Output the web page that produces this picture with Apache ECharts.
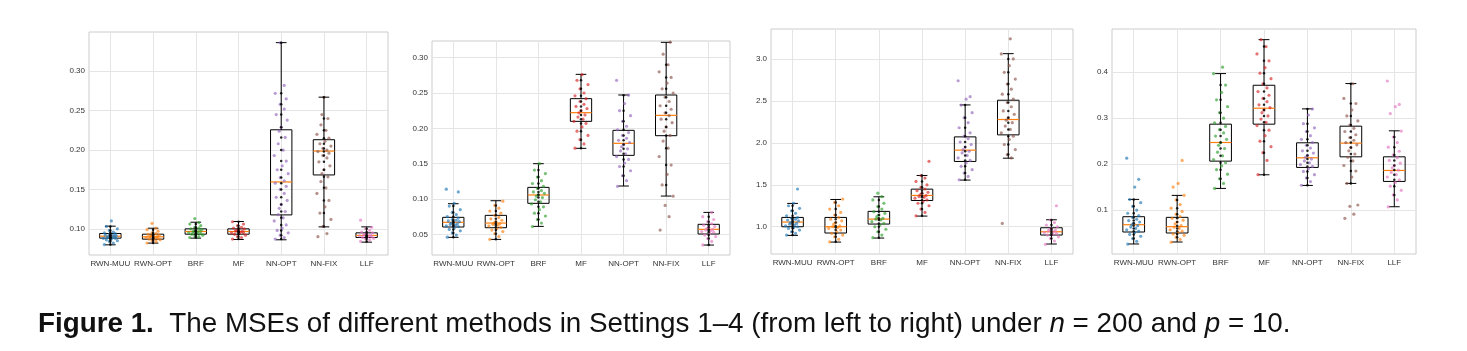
<!DOCTYPE html>
<html>
<head>
<meta charset="utf-8">
<script src="https://cdn.jsdelivr.net/npm/echarts@6/dist/echarts.min.js"></script>
<style>
  html, body { margin: 0; padding: 0; background: #fff; }
  #main { width: 1467px; height: 351px; }
</style>
</head>
<body>
<div id="main"></div>
<script>
const methods = ['RWN-MUU', 'RWN-OPT', 'BRF', 'MF', 'NN-OPT', 'NN-FIX', 'LLF']
const colors = ['#1f77b4', '#ff7f0e', '#2ca02c', '#d62728', '#9467bd', '#8c564b', '#e377c2']

// box stats per method: [min whisker, Q1, median, Q3, max whisker]
const s1Box = [
  [0.0797, 0.0882, 0.0907, 0.0941, 0.1034],
  [0.0819, 0.0869, 0.0899, 0.0932, 0.1008],
  [0.0882, 0.0932, 0.0966, 0.1000, 0.1084],
  [0.0865, 0.0932, 0.0966, 0.1000, 0.1093],
  [0.0861, 0.1177, 0.1595, 0.2257, 0.3363],
  [0.1025, 0.1684, 0.1987, 0.2131, 0.2671],
  [0.0831, 0.0890, 0.0916, 0.0949, 0.1025]
]
const s2Box = [
  [0.0458, 0.0604, 0.0670, 0.0741, 0.0934],
  [0.0429, 0.0594, 0.0660, 0.0769, 0.0976],
  [0.0613, 0.0939, 0.1057, 0.1165, 0.1500],
  [0.1717, 0.2099, 0.2222, 0.2420, 0.2764],
  [0.1184, 0.1618, 0.1788, 0.1972, 0.2472],
  [0.1042, 0.1896, 0.2184, 0.2472, 0.3217],
  [0.0349, 0.0505, 0.0571, 0.0642, 0.0811]
]
const s3Box = [
  [0.897, 1.000, 1.056, 1.111, 1.278],
  [0.817, 0.925, 1.000, 1.111, 1.325],
  [0.865, 1.032, 1.091, 1.183, 1.357],
  [1.127, 1.313, 1.373, 1.448, 1.611],
  [1.556, 1.778, 1.913, 2.071, 2.452],
  [1.817, 2.095, 2.278, 2.508, 3.063],
  [0.794, 0.901, 0.940, 0.988, 1.083]
]
const s4Box = [
  [0.0261, 0.0522, 0.0681, 0.0855, 0.1232],
  [0.0304, 0.0500, 0.0638, 0.0841, 0.1319],
  [0.1471, 0.2065, 0.2471, 0.2870, 0.3971],
  [0.1768, 0.2870, 0.3217, 0.3717, 0.4710],
  [0.1536, 0.1928, 0.2138, 0.2464, 0.3203],
  [0.1580, 0.2159, 0.2457, 0.2826, 0.3754],
  [0.1072, 0.1623, 0.1862, 0.2159, 0.2725]
]

// individual MSE values
const s1Pts = [
  [0.080, 0.082, 0.084, 0.085, 0.086, 0.087, 0.088, 0.088, 0.089, 0.089, 0.090, 0.090, 0.091, 0.091, 0.092, 0.092, 0.093, 0.094, 0.095, 0.096, 0.098, 0.100, 0.103, 0.110],
  [0.082, 0.084, 0.085, 0.086, 0.087, 0.087, 0.088, 0.089, 0.089, 0.090, 0.090, 0.091, 0.092, 0.092, 0.093, 0.094, 0.095, 0.097, 0.099, 0.101, 0.107],
  [0.089, 0.090, 0.091, 0.092, 0.093, 0.094, 0.094, 0.095, 0.096, 0.096, 0.097, 0.097, 0.098, 0.099, 0.100, 0.101, 0.102, 0.104, 0.106, 0.108, 0.113],
  [0.087, 0.089, 0.090, 0.092, 0.093, 0.094, 0.095, 0.095, 0.096, 0.097, 0.097, 0.098, 0.099, 0.100, 0.101, 0.102, 0.104, 0.106, 0.109],
  [0.087, 0.089, 0.092, 0.095, 0.098, 0.101, 0.105, 0.110, 0.114, 0.118, 0.122, 0.126, 0.131, 0.136, 0.140, 0.145, 0.150, 0.154, 0.158, 0.161, 0.165, 0.170, 0.175, 0.180, 0.186, 0.193, 0.200, 0.208, 0.216, 0.224, 0.229, 0.238, 0.245, 0.252, 0.258, 0.265, 0.272, 0.282, 0.336],
  [0.090, 0.094, 0.103, 0.112, 0.120, 0.128, 0.136, 0.145, 0.152, 0.160, 0.166, 0.170, 0.175, 0.180, 0.185, 0.190, 0.193, 0.196, 0.198, 0.200, 0.202, 0.205, 0.208, 0.211, 0.215, 0.220, 0.225, 0.232, 0.240, 0.245, 0.267],
  [0.084, 0.086, 0.087, 0.088, 0.089, 0.090, 0.090, 0.091, 0.091, 0.092, 0.092, 0.093, 0.094, 0.095, 0.096, 0.098, 0.100, 0.102, 0.111]
]
const s2Pts = [
  [0.046, 0.049, 0.052, 0.055, 0.057, 0.059, 0.061, 0.062, 0.063, 0.064, 0.065, 0.066, 0.067, 0.068, 0.069, 0.070, 0.071, 0.073, 0.075, 0.078, 0.081, 0.085, 0.090, 0.094, 0.110, 0.114],
  [0.043, 0.047, 0.051, 0.054, 0.056, 0.058, 0.060, 0.062, 0.063, 0.064, 0.065, 0.066, 0.068, 0.070, 0.072, 0.074, 0.077, 0.080, 0.083, 0.087, 0.091, 0.097],
  [0.061, 0.066, 0.071, 0.076, 0.080, 0.085, 0.089, 0.093, 0.096, 0.099, 0.102, 0.104, 0.106, 0.108, 0.110, 0.112, 0.115, 0.118, 0.122, 0.126, 0.131, 0.136, 0.141, 0.150],
  [0.172, 0.178, 0.184, 0.190, 0.196, 0.202, 0.207, 0.210, 0.213, 0.216, 0.219, 0.222, 0.225, 0.228, 0.231, 0.234, 0.238, 0.242, 0.246, 0.250, 0.256, 0.262, 0.268, 0.276],
  [0.118, 0.126, 0.133, 0.140, 0.146, 0.151, 0.156, 0.160, 0.164, 0.168, 0.171, 0.174, 0.177, 0.180, 0.183, 0.186, 0.190, 0.194, 0.198, 0.203, 0.210, 0.218, 0.225, 0.235, 0.247, 0.268],
  [0.056, 0.075, 0.091, 0.104, 0.120, 0.135, 0.148, 0.160, 0.172, 0.182, 0.190, 0.196, 0.202, 0.208, 0.213, 0.218, 0.222, 0.227, 0.232, 0.238, 0.244, 0.250, 0.256, 0.264, 0.272, 0.280, 0.290, 0.305, 0.322],
  [0.035, 0.040, 0.044, 0.047, 0.049, 0.051, 0.053, 0.054, 0.055, 0.056, 0.057, 0.058, 0.060, 0.061, 0.063, 0.065, 0.068, 0.071, 0.075, 0.081]
]
const s3Pts = [
  [0.90, 0.92, 0.94, 0.96, 0.98, 0.99, 1.00, 1.01, 1.02, 1.03, 1.04, 1.05, 1.06, 1.07, 1.08, 1.09, 1.10, 1.11, 1.13, 1.16, 1.19, 1.22, 1.25, 1.28, 1.45],
  [0.82, 0.85, 0.88, 0.90, 0.92, 0.94, 0.96, 0.98, 0.99, 1.00, 1.01, 1.03, 1.05, 1.07, 1.09, 1.11, 1.14, 1.17, 1.21, 1.25, 1.29, 1.33],
  [0.87, 0.90, 0.94, 0.97, 1.00, 1.02, 1.04, 1.06, 1.08, 1.09, 1.10, 1.12, 1.14, 1.16, 1.18, 1.21, 1.24, 1.28, 1.32, 1.36, 1.40],
  [1.13, 1.17, 1.21, 1.25, 1.28, 1.30, 1.32, 1.34, 1.35, 1.36, 1.37, 1.38, 1.40, 1.41, 1.43, 1.45, 1.47, 1.50, 1.54, 1.58, 1.61, 1.78],
  [1.56, 1.60, 1.64, 1.68, 1.72, 1.76, 1.79, 1.82, 1.85, 1.88, 1.90, 1.92, 1.95, 1.98, 2.01, 2.05, 2.08, 2.12, 2.18, 2.24, 2.30, 2.36, 2.45, 2.52, 2.55, 2.74],
  [1.04, 1.82, 1.86, 1.92, 1.98, 2.04, 2.08, 2.12, 2.16, 2.20, 2.24, 2.27, 2.30, 2.34, 2.38, 2.43, 2.48, 2.52, 2.58, 2.64, 2.70, 2.76, 2.84, 2.92, 3.00, 3.06, 3.24],
  [0.79, 0.83, 0.86, 0.88, 0.90, 0.91, 0.92, 0.93, 0.94, 0.95, 0.96, 0.97, 0.98, 1.00, 1.02, 1.05, 1.08, 1.25]
]
const s4Pts = [
  [0.026, 0.032, 0.038, 0.043, 0.047, 0.051, 0.054, 0.057, 0.060, 0.063, 0.066, 0.068, 0.071, 0.074, 0.077, 0.080, 0.084, 0.088, 0.093, 0.100, 0.108, 0.116, 0.123, 0.150, 0.167, 0.213],
  [0.030, 0.036, 0.041, 0.045, 0.048, 0.051, 0.054, 0.057, 0.060, 0.063, 0.066, 0.070, 0.074, 0.078, 0.082, 0.086, 0.091, 0.097, 0.104, 0.112, 0.122, 0.132, 0.150, 0.158, 0.208],
  [0.147, 0.158, 0.168, 0.178, 0.188, 0.196, 0.203, 0.210, 0.218, 0.226, 0.234, 0.241, 0.247, 0.254, 0.261, 0.268, 0.275, 0.282, 0.290, 0.300, 0.312, 0.325, 0.340, 0.356, 0.372, 0.397, 0.411],
  [0.177, 0.208, 0.225, 0.238, 0.250, 0.262, 0.274, 0.284, 0.291, 0.298, 0.305, 0.312, 0.318, 0.323, 0.329, 0.336, 0.343, 0.350, 0.358, 0.366, 0.375, 0.386, 0.398, 0.410, 0.425, 0.440, 0.456, 0.471],
  [0.154, 0.162, 0.170, 0.177, 0.184, 0.190, 0.195, 0.199, 0.203, 0.207, 0.211, 0.215, 0.219, 0.224, 0.229, 0.235, 0.241, 0.247, 0.254, 0.262, 0.271, 0.279, 0.288, 0.307, 0.320],
  [0.082, 0.091, 0.108, 0.111, 0.158, 0.172, 0.185, 0.197, 0.207, 0.215, 0.222, 0.229, 0.236, 0.242, 0.247, 0.252, 0.258, 0.264, 0.271, 0.278, 0.285, 0.294, 0.305, 0.318, 0.332, 0.343, 0.375],
  [0.107, 0.122, 0.133, 0.143, 0.152, 0.160, 0.166, 0.172, 0.177, 0.182, 0.187, 0.192, 0.197, 0.202, 0.208, 0.214, 0.220, 0.228, 0.237, 0.247, 0.259, 0.272, 0.310, 0.325, 0.330, 0.381]
]

const panels = [
  {box: s1Box, pts: s1Pts, min: 0.0668, max: 0.3498, digits: 2, grid: {left: 89, top: 32, width: 299, height: 223}},
  {box: s2Box, pts: s2Pts, min: 0.0208, max: 0.3236, digits: 2, grid: {left: 432, top: 41, width: 298, height: 214}},
  {box: s3Box, pts: s3Pts, min: 0.675, max: 3.357, digits: 1, grid: {left: 771, top: 29, width: 302, height: 225}},
  {box: s4Box, pts: s4Pts, min: 0.0043, max: 0.4942, digits: 1, grid: {left: 1112, top: 29, width: 304, height: 225}}
]

// horizontal spread of the strip points, in px
const jitter = [-6, 3, -1, 7, -4, 1, 5, -7, 2, -3, 4, -2, 0, 6, -5, 3, -1, 5]

const renderBox = (params, api) => {
  const x = api.value(0)
  const lo = api.coord([x, api.value(1)])
  const q1 = api.coord([x, api.value(2)])
  const med = api.coord([x, api.value(3)])
  const q3 = api.coord([x, api.value(4)])
  const hi = api.coord([x, api.value(5)])
  const band = api.size([1, 0])[0]
  const cx = lo[0]
  const hw = band * 0.25
  const cw = band * 0.125
  const ln = {stroke: '#000', lineWidth: 1}
  return {
    type: 'group',
    children: [
      {type: 'line', shape: {x1: cx, y1: q3[1], x2: cx, y2: hi[1]}, style: ln},
      {type: 'line', shape: {x1: cx, y1: q1[1], x2: cx, y2: lo[1]}, style: ln},
      {type: 'line', shape: {x1: cx - cw, y1: hi[1], x2: cx + cw, y2: hi[1]}, style: ln},
      {type: 'line', shape: {x1: cx - cw, y1: lo[1], x2: cx + cw, y2: lo[1]}, style: ln},
      {type: 'rect', shape: {x: cx - hw, y: q3[1], width: hw * 2, height: q1[1] - q3[1]}, style: {fill: 'none', stroke: '#000', lineWidth: 1}},
      {type: 'line', shape: {x1: cx - hw, y1: med[1], x2: cx + hw, y2: med[1]}, style: {stroke: '#ff7f0e', lineWidth: 1.2}, z2: 10}
    ]
  }
}

const grids = [], xAxes = [], yAxes = [], series = []
const labelStyle = {fontSize: 8, color: '#333', fontFamily: 'Liberation Sans'}

panels.forEach((p, k) => {
  grids.push(Object.assign({show: true, borderColor: '#cccccc', borderWidth: 1, backgroundColor: '#fff'}, p.grid))
  xAxes.push({
    type: 'category', gridIndex: k, data: methods,
    axisLine: {show: false}, axisTick: {show: false},
    axisLabel: Object.assign({interval: 0, margin: 5}, labelStyle),
    splitLine: {show: true, alignWithLabel: true, lineStyle: {color: '#e5e5e5', width: 1}}
  })
  yAxes.push({
    type: 'value', gridIndex: k, min: p.min, max: p.max, splitNumber: 5,
    axisLine: {show: false}, axisTick: {show: false},
    axisLabel: Object.assign({margin: 4, showMinLabel: false, showMaxLabel: false,
      formatter: v => v.toFixed(p.digits)}, labelStyle),
    splitLine: {show: true, showMinLine: false, showMaxLine: false, lineStyle: {color: '#e5e5e5', width: 1}}
  })

  series.push({
    type: 'custom', xAxisIndex: k, yAxisIndex: k, renderItem: renderBox, z: 2,
    encode: {x: 0, y: [1, 2, 3, 4, 5]},
    data: p.box.map((b, i) => [i].concat(b))
  })

  const colored = []
  const black = []
  p.pts.forEach((vals, i) => {
    vals.forEach((v, j) => {
      colored.push({value: [i, v], symbolOffset: [jitter[j % jitter.length], 0], itemStyle: {color: colors[i]}})
      if (v >= p.box[i][0] && v <= p.box[i][4] && j % 2 === 0) {
        black.push({value: [i, v]})
      }
    })
  })
  series.push({
    type: 'scatter', xAxisIndex: k, yAxisIndex: k, z: 3, silent: true,
    symbol: 'circle', symbolSize: 3.2, itemStyle: {opacity: 0.65},
    data: colored
  })
  series.push({
    type: 'scatter', xAxisIndex: k, yAxisIndex: k, z: 4, silent: true,
    symbol: 'circle', symbolSize: 2.5, itemStyle: {color: '#000', opacity: 0.85},
    data: black
  })
})

const chart = echarts.init(document.getElementById('main'))
chart.setOption({
  animation: false,
  backgroundColor: '#fff',
  title: {
    left: 33, top: 305,
    text: '{b|Figure 1.}  The MSEs of different methods in Settings 1–4 (from left to right) under {i|n} = 200 and {i|p} = 10.',
    textStyle: {
      fontFamily: 'Liberation Sans', fontSize: 27.8, fontWeight: 'normal', color: '#111',
      rich: {
        b: {fontFamily: 'Liberation Sans', fontSize: 27.8, fontWeight: 'bold', color: '#111'},
        i: {fontFamily: 'Liberation Sans', fontSize: 27.8, fontStyle: 'italic', color: '#111'}
      }
    }
  },
  grid: grids,
  xAxis: xAxes,
  yAxis: yAxes,
  series: series
})
</script>
</body>
</html>
